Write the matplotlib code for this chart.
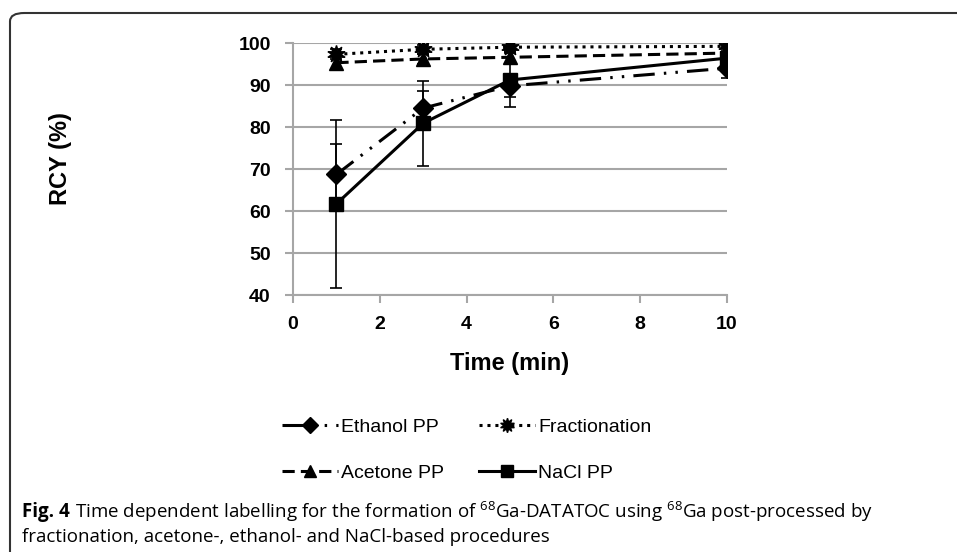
import matplotlib
matplotlib.use("Agg")
import matplotlib.pyplot as plt
from matplotlib.lines import Line2D
from matplotlib.patches import FancyBboxPatch

plt.rcParams['font.family'] = ['Liberation Sans', 'DejaVu Sans']
plt.rcParams['mathtext.fontset'] = 'custom'
plt.rcParams['mathtext.rm'] = 'Open Sans'

time_min = [1, 3, 5, 10]

ethanol = [68.7, 84.5, 89.8, 94.0]
ethanol_err = [7.3, 4.0, 2.7, 2.3]
fractionation = [97.3, 98.5, 99.0, 99.2]
fractionation_err = [1.2, 1.0, 1.2, 1.2]
acetone = [95.3, 96.2, 96.6, 97.6]
acetone_err = [1.5, 1.3, 1.5, 1.6]
nacl = [61.7, 80.9, 91.2, 96.4]
nacl_err = [20.0, 10.1, 6.4, 1.5]

labels = ["Ethanol PP", "Fractionation", "Acetone PP", "NaCl PP"]

W, H = 957, 552
fig = plt.figure(figsize=(W / 100, H / 100), dpi=100)
ax = fig.add_axes([293 / W, 1 - 295 / H, 434 / W, 252 / H])

k = 'black'
cap = 4.5
styles = [
    dict(linestyle=(0, (7, 3, 0.8, 3, 0.8, 3)), marker='D', ms=10),
    dict(linestyle=(0, (1, 1.6)), marker=(10, 1, 0), ms=13),
    dict(linestyle=(0, (4, 2)), marker='^', ms=10),
    dict(linestyle='-', marker='s', ms=10),
]
series = [(ethanol, ethanol_err), (fractionation, fractionation_err),
          (acetone, acetone_err), (nacl, nacl_err)]

handles = []
for (vals, errs), st, lab in zip(series, styles, labels):
    ax.errorbar(time_min, vals, yerr=errs, color=k, lw=2.2,
                ecolor=k, elinewidth=1.2, capsize=cap, capthick=1.2,
                zorder=3, **st)
    legst = dict(st)
    legst['ms'] = st['ms'] * 0.8
    handles.append(Line2D([], [], color=k, lw=2.2, label=lab, **legst))

ax.set_xlim(0, 10)
ax.set_ylim(40, 100)
ax.set_xticks(range(0, 11, 2))
ax.set_yticks(range(40, 101, 10))
ax.yaxis.grid(True, color='#a6a6a6', lw=1.5)
ax.set_axisbelow(True)
for s in ['top', 'right']:
    ax.spines[s].set_visible(False)
for s in ['left', 'bottom']:
    ax.spines[s].set_color('#a6a6a6')
    ax.spines[s].set_linewidth(1.5)
ax.tick_params(axis='both', color='#a6a6a6', width=1.5, length=6,
               labelsize=14)
ax.tick_params(axis='y', pad=10)
ax.tick_params(axis='x', pad=9)
for t in ax.get_xticklabels() + ax.get_yticklabels():
    t.set_fontweight('bold')

ax.set_xlabel("Time (min)", fontsize=17, fontweight='bold')
ax.set_ylabel("RCY (%)", fontsize=17, fontweight='bold')
ax.xaxis.set_label_coords(0.5, -0.225)
ax.yaxis.set_label_coords(-0.509, 0.54)

# legend filled row by row: Ethanol, Fractionation / Acetone, NaCl
order = [0, 2, 1, 3]
fig.legend(handles=[handles[i] for i in order], loc='center left',
           bbox_to_anchor=(264 / W, 1 - 450 / H), ncol=2,
           frameon=False, fontsize=14, handlelength=2.9, handletextpad=0.15,
           columnspacing=1.8, labelspacing=1.45)

# frame around figure and caption
frame = FancyBboxPatch((10 / W, -0.05), 1.1, 1 - 13 / H + 0.05,
                       boxstyle="round,pad=0,rounding_size=0.015",
                       transform=fig.transFigure, fill=False,
                       edgecolor='#333333', lw=1.5, clip_on=False)
fig.patches.append(frame)

cap_size = 13.5
t1 = fig.text(22 / W, 1 - 512 / H, "Fig. 4", family='Open Sans',
              fontweight='bold', fontsize=cap_size, va='center', ha='left')
renderer = fig.canvas.get_renderer()
bb = t1.get_window_extent(renderer)
fig.text((bb.x1 + 5) / W, 1 - 512 / H,
         r"Time dependent labelling for the formation of "
         r"$^{68}$Ga-DATATOC using $^{68}$Ga post-processed by",
         family='Open Sans', fontsize=cap_size, va='center', ha='left')
fig.text(22 / W, 1 - 537 / H,
         "fractionation, acetone-, ethanol- and NaCl-based procedures",
         family='Open Sans', fontsize=cap_size, va='center', ha='left')

fig.savefig("out.png", dpi=100)
